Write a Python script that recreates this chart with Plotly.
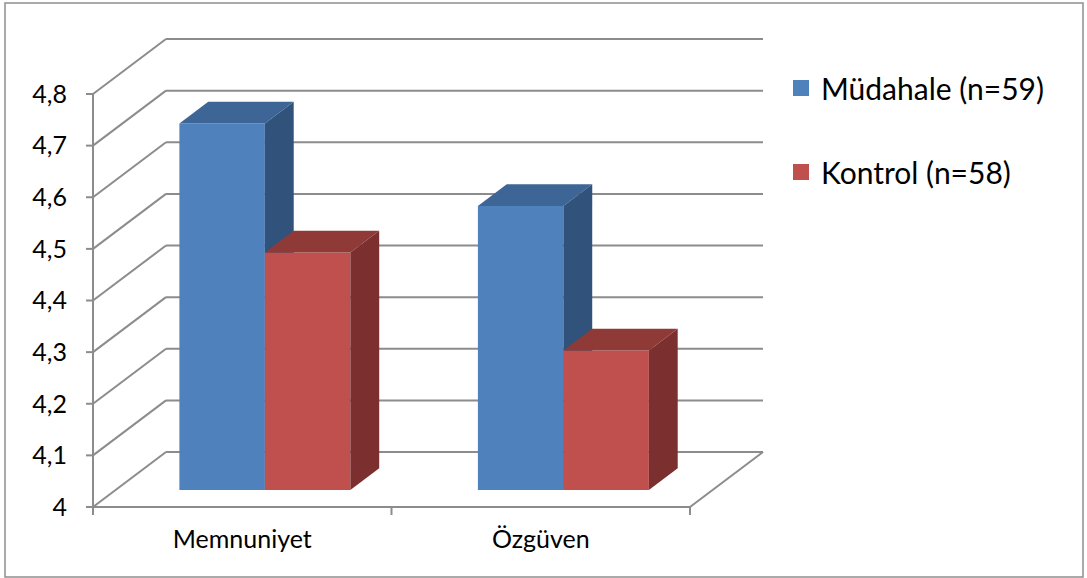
import plotly.graph_objects as go

# ---------------- data ----------------
categories = ["Memnuniyet", "Özgüven"]
series_names = ["Müdahale (n=59)", "Kontrol (n=58)"]
mudahale = [4.71, 4.55]
kontrol = [4.46, 4.27]
series_values = [mudahale, kontrol]
y_ticks = [4.0, 4.1, 4.2, 4.3, 4.4, 4.5, 4.6, 4.7, 4.8]
y_tick_labels = ["4", "4,1", "4,2", "4,3", "4,4", "4,5", "4,6", "4,7", "4,8"]

# ---------------- style ----------------
FRONT = ["#4F81BD", "#C0504D"]
TOP = ["#3D6696", "#903A38"]
SIDE = ["#31527A", "#7B302F"]
GRID = "#8C8C8C"
FONT = "Lato"

W, H = 1087, 578
PX_X = 298.5      # pixels per category unit
PX_Y = 516.25     # pixels per value unit
FRONT_LEFT_PX = 93
FRONT_BASE_PX = 507
DEPTH_PX = (73, 55)
DX = DEPTH_PX[0] / PX_X
DY = DEPTH_PX[1] / PX_Y
BAR_W = 0.2864    # bar width (category units)
F1, F2 = 0.31, 0.705   # front / back depth fraction of the bars
Y0 = y_ticks[0]
NCAT = len(categories)

# plot area in pixels (padded so edge lines are not clipped)
PL, PR, PT, PB = 84, 766, 36, 517
x_range = [(PL - FRONT_LEFT_PX) / PX_X, (PR - FRONT_LEFT_PX) / PX_X]
y_range = [Y0 + (FRONT_BASE_PX - PB) / PX_Y, Y0 + (FRONT_BASE_PX - PT) / PX_Y]

fig = go.Figure()

# ---------------- frame / gridlines ----------------
gx, gy = [], []
def seg(pts):
    for p in pts:
        gx.append(p[0]); gy.append(p[1])
    gx.append(None); gy.append(None)

for t in y_ticks:
    seg([(DX, t + DY), (NCAT + DX, t + DY)])     # back wall
    seg([(0, t), (DX, t + DY)])                 # side wall
    seg([(0, t), (-7 / PX_X, t)])               # y tick
seg([(NCAT, Y0), (NCAT + DX, Y0 + DY)])         # floor right edge
seg([(0, y_ticks[-1]), (0, Y0), (NCAT, Y0)])    # front axes
for k in range(NCAT + 1):
    seg([(k, Y0), (k, Y0 - 8 / PX_Y)])          # x ticks

fig.add_trace(go.Scatter(x=gx, y=gy, mode="lines", line=dict(color=GRID, width=2),
                         hoverinfo="skip", showlegend=False))

# ---------------- 3D bars ----------------
def poly(xs, ys, color):
    fig.add_trace(go.Scatter(x=xs + [xs[0]], y=ys + [ys[0]], mode="lines", fill="toself",
                             fillcolor=color, line=dict(width=0, color=color),
                             hoverinfo="skip", showlegend=False))

bx, by = (F2 - F1) * DX, (F2 - F1) * DY
for c in range(NCAT):
    center = c + 0.5 + F1 * DX
    for s, vals in enumerate(series_values):
        v = vals[c]
        x0 = center - BAR_W + s * BAR_W
        x1 = x0 + BAR_W
        yb = Y0 + F1 * DY
        yt = v + F1 * DY
        poly([x0, x1, x1, x0], [yb, yb, yt, yt], FRONT[s])
        poly([x0, x1, x1 + bx, x0 + bx], [yt, yt, yt + by, yt + by], TOP[s])
        poly([x1, x1 + bx, x1 + bx, x1], [yb, yb + by, yt + by, yt], SIDE[s])

# ---------------- legend entries ----------------
for s, name in enumerate(series_names):
    fig.add_trace(go.Scatter(x=[None], y=[None], mode="markers", name=name,
                             legendgroup=name,
                             marker=dict(symbol="square", size=16, color=FRONT[s])))

pw, ph = PR - PL, PB - PT
fig.update_layout(
    width=W, height=H,
    margin=dict(l=PL, r=W - PR, t=PT, b=H - PB, pad=0),
    paper_bgcolor="white", plot_bgcolor="white",
    font=dict(family=FONT, color="black"),
    xaxis=dict(range=x_range, showgrid=False, zeroline=False, showline=False,
               tickmode="array", tickvals=[c + 0.5 for c in range(NCAT)], ticktext=categories,
               ticks="", tickfont=dict(size=25, family=FONT, color="black"),
               ticklabelstandoff=5, fixedrange=True),
    yaxis=dict(range=y_range, showgrid=False, zeroline=False, showline=False,
               tickmode="array", tickvals=y_ticks, ticktext=y_tick_labels,
               ticks="", tickfont=dict(size=25, family=FONT, color="black"),
               ticklabelstandoff=16, fixedrange=True),
    legend=dict(x=(781 - PL) / pw, y=1 - (62 - PT) / ph, xanchor="left", yanchor="top",
                font=dict(size=30, family=FONT, color="black"),
                traceorder="grouped", tracegroupgap=42, bgcolor="rgba(0,0,0,0)"),
    shapes=[dict(type="rect", xref="paper", yref="paper",
                 x0=(5 - PL) / pw, x1=(1083 - PL) / pw,
                 y0=1 - (577 - PT) / ph, y1=1 - (3 - PT) / ph,
                 line=dict(color="#8F8F8F", width=1.5), layer="below")],
    showlegend=True,
)

fig.write_html("out.html")
